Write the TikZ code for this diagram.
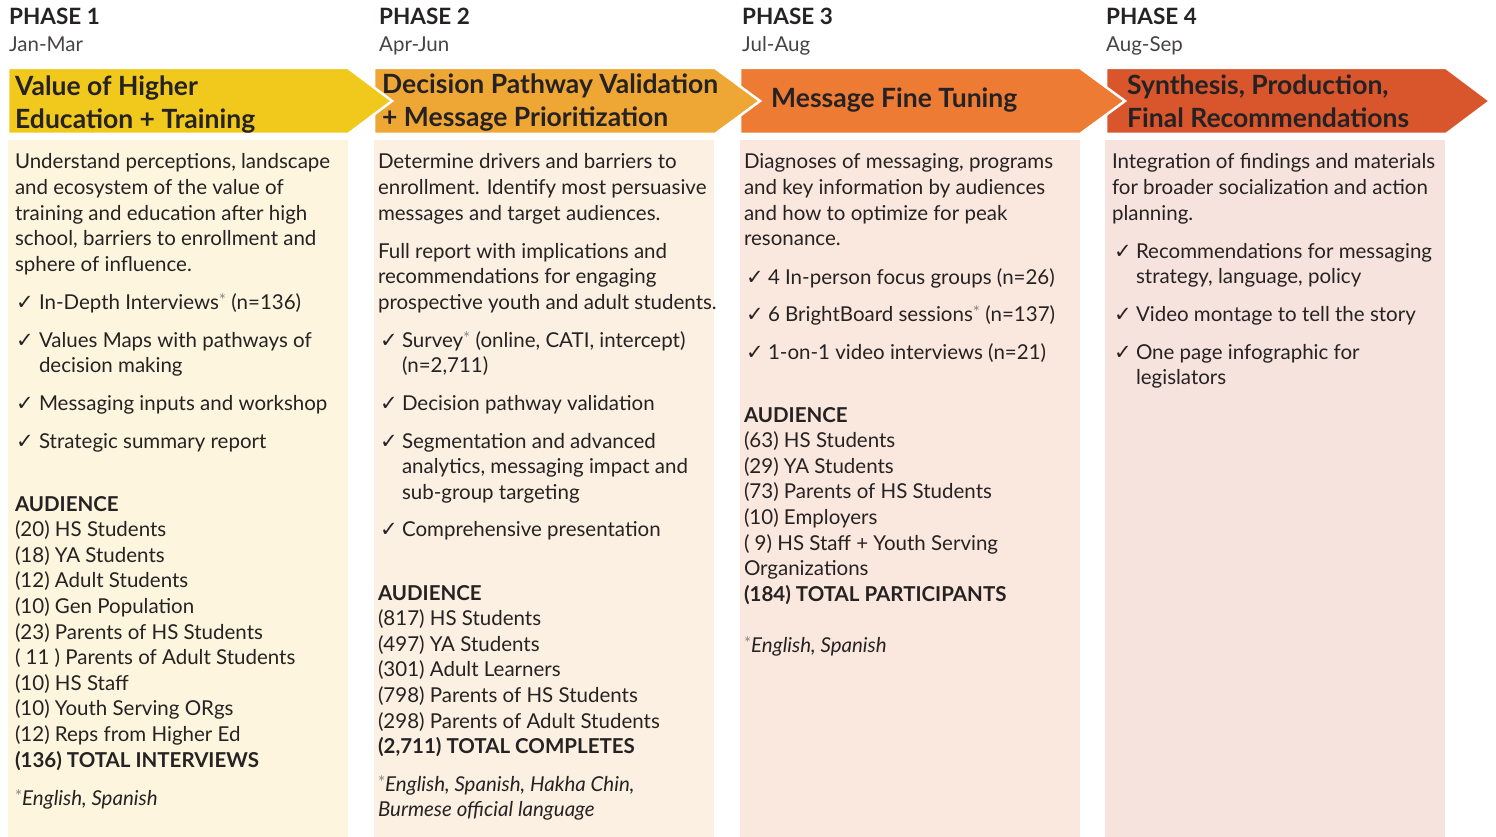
\documentclass[tikz,border=0pt]{standalone}
\usepackage{fontspec}
\setmainfont{Lato}
\newfontfamily\symfont{DejaVu Sans}

\definecolor{ink}{HTML}{262223}
\definecolor{phaseA}{HTML}{F0C91C}
\definecolor{phaseB}{HTML}{EEA735}
\definecolor{phaseC}{HTML}{EE7B34}
\definecolor{phaseD}{HTML}{D9552C}
\definecolor{paneA}{HTML}{FDF5DD}
\definecolor{paneB}{HTML}{FBF0E1}
\definecolor{paneC}{HTML}{FAE8DE}
\definecolor{paneD}{HTML}{F7E3DD}

\newcommand\bodysize{\fontsize{20.5}{25.6}\selectfont}
\newcommand\fnmark{\raisebox{0.12em}{\fontsize{17}{17}\selectfont\upshape\color{ink!55}*}}

% one text line per baseline, 25.6pt apart
\newcommand\textlines[4]{%
  \foreach \linetext [count=\k from 0] in {#4}
    \node[txt] (#1-\k) at (#2,{#3+25.6*\k}) {\linetext};}
% a ticked list entry
\newcommand\checkitem[5]{%
  \node[chk] (#1-c) at (#2,#4) {✓};
  \textlines{#1}{#3}{#4}{#5}}

\begin{document}
\begin{tikzpicture}[x=1pt,y=-1pt,
  txt/.style={anchor=base west,inner sep=0pt,outer sep=0pt,font=\bodysize,text=ink},
  notetxt/.style={txt,font=\bodysize\itshape},
  chk/.style={anchor=base west,inner sep=0pt,font=\symfont\fontsize{21}{21}\selectfont,text=ink},
  phasetitle/.style={anchor=base west,inner sep=0pt,font=\fontsize{22.5}{22.5}\selectfont\bfseries,text=ink},
  phasedate/.style={anchor=base west,inner sep=0pt,font=\fontsize{20.5}{20.5}\selectfont,text=ink!85},
  bannertxt/.style={anchor=base west,inner sep=0pt,font=\fontsize{26.5}{26.5}\selectfont\bfseries,text=ink},
  banner/.style={draw=white,line width=2.5pt,line join=miter}]

\useasboundingbox (0,0) rectangle (1496,837);

% background panels
\fill[paneA] (8,140) rectangle (348,837);
\fill[paneB] (374,140) rectangle (714,837);
\fill[paneC] (740,140) rectangle (1080,837);
\fill[paneD] (1105,140) rectangle (1445,837);

% chevron banners, later phases first so each tip sits on top
\filldraw[banner,fill=phaseD] (1106,68) -- (1446,68) -- (1490,101) -- (1446,134) -- (1106,134) -- cycle;
\filldraw[banner,fill=phaseC] (740,68) -- (1080,68) -- (1125,101) -- (1080,134) -- (740,134) -- cycle;
\filldraw[banner,fill=phaseB] (374,68) -- (715,68) -- (760,101) -- (715,134) -- (374,134) -- cycle;
\filldraw[banner,fill=phaseA] (8,68) -- (348,68) -- (392,101) -- (348,134) -- (8,134) -- cycle;

% phase headings
\node[phasetitle] (p1) at (9,25) {PHASE 1};
\node[phasedate] (d1) at (9,52) {Jan-Mar};
\node[phasetitle] (p2) at (379,25) {PHASE 2};
\node[phasedate] (d2) at (379,52) {Apr-Jun};
\node[phasetitle] (p3) at (742,25) {PHASE 3};
\node[phasedate] (d3) at (742,52) {Jul-Aug};
\node[phasetitle] (p4) at (1106,25) {PHASE 4};
\node[phasedate] (d4) at (1106,52) {Aug-Sep};

% banner titles
\node[bannertxt] (b1a) at (15,96) {Value of Higher};
\node[bannertxt] (b1b) at (15,129) {Education + Training};
\node[bannertxt] (b2a) at (382,94) {Decision Pathway Validation};
\node[bannertxt] (b2b) at (382,127) {+ Message Prioritization};
\node[bannertxt] (b3a) at (771,108) {Message Fine Tuning};
\node[bannertxt] (b4a) at (1127,95) {Synthesis, Production,};
\node[bannertxt] (b4b) at (1127,128) {Final Recommendations};

% ---------- phase 1 ----------
\textlines{a1}{15}{169}{{Understand perceptions, landscape},
  and ecosystem of the value of,
  training and education after high,
  {school, barriers to enrollment and},
  sphere of influence.}
\checkitem{a2}{16}{39}{309}{{In-Depth Interviews\fnmark{} (n=136)}}
\checkitem{a3}{16}{39}{347}{Values Maps with pathways of, decision making}
\checkitem{a4}{16}{39}{410}{Messaging inputs and workshop}
\checkitem{a5}{16}{39}{448}{Strategic summary report}
\textlines{a6}{15}{511}{{\bfseries AUDIENCE},
  (20) HS Students, (18) YA Students, (12) Adult Students,
  (10) Gen Population, (23) Parents of HS Students,
  ( 11 ) Parents of Adult Students, (10) HS Staff,
  (10) Youth Serving ORgs, (12) Reps from Higher Ed,
  {\bfseries (136) TOTAL INTERVIEWS}}
\node[notetxt] (a7) at (15,805) {\fnmark{}English, Spanish};

% ---------- phase 2 ----------
\textlines{b1}{378}{169}{Determine drivers and barriers to,
  {enrollment. Identify most persuasive},
  messages and target audiences.}
\textlines{b2}{378}{258}{Full report with implications and,
  recommendations for engaging,
  prospective youth and adult students.}
\checkitem{b3}{380}{402}{347}{{Survey\fnmark{} (online, CATI, intercept)}, {(n=2,711)}}
\checkitem{b4}{380}{402}{410}{Decision pathway validation}
\checkitem{b5}{380}{402}{448}{Segmentation and advanced,
  {analytics, messaging impact and}, sub-group targeting}
\checkitem{b6}{380}{402}{536}{Comprehensive presentation}
\textlines{b7}{378}{600}{{\bfseries AUDIENCE},
  (817) HS Students, (497) YA Students, (301) Adult Learners,
  (798) Parents of HS Students, (298) Parents of Adult Students,
  {\bfseries (2,711) TOTAL COMPLETES}}
\node[notetxt] (b8) at (378,791) {\fnmark{}English, Spanish, Hakha Chin,};
\node[notetxt] (b9) at (378,816.6) {Burmese official language};

% ---------- phase 3 ----------
\textlines{c1}{744}{169}{{Diagnoses of messaging, programs},
  and key information by audiences,
  and how to optimize for peak,
  resonance.}
\checkitem{c2}{746}{768}{284}{4 In-person focus groups (n=26)}
\checkitem{c3}{746}{768}{321}{{6 BrightBoard sessions\fnmark{} (n=137)}}
\checkitem{c4}{746}{768}{359}{1-on-1 video interviews (n=21)}
\textlines{c5}{744}{422}{{\bfseries AUDIENCE},
  (63) HS Students, (29) YA Students, (73) Parents of HS Students,
  (10) Employers, ( 9) HS Staff + Youth Serving, Organizations,
  {\bfseries (184) TOTAL PARTICIPANTS}}
\node[notetxt] (c6) at (744,652) {\fnmark{}English, Spanish};

% ---------- phase 4 ----------
\textlines{d1}{1112}{169}{Integration of findings and materials,
  for broader socialization and action,
  planning.}
\checkitem{d2}{1114}{1136}{258}{Recommendations for messaging,
  {strategy, language, policy}}
\checkitem{d3}{1114}{1136}{321}{Video montage to tell the story}
\checkitem{d4}{1114}{1136}{359}{One page infographic for, legislators}

\end{tikzpicture}
\end{document}
